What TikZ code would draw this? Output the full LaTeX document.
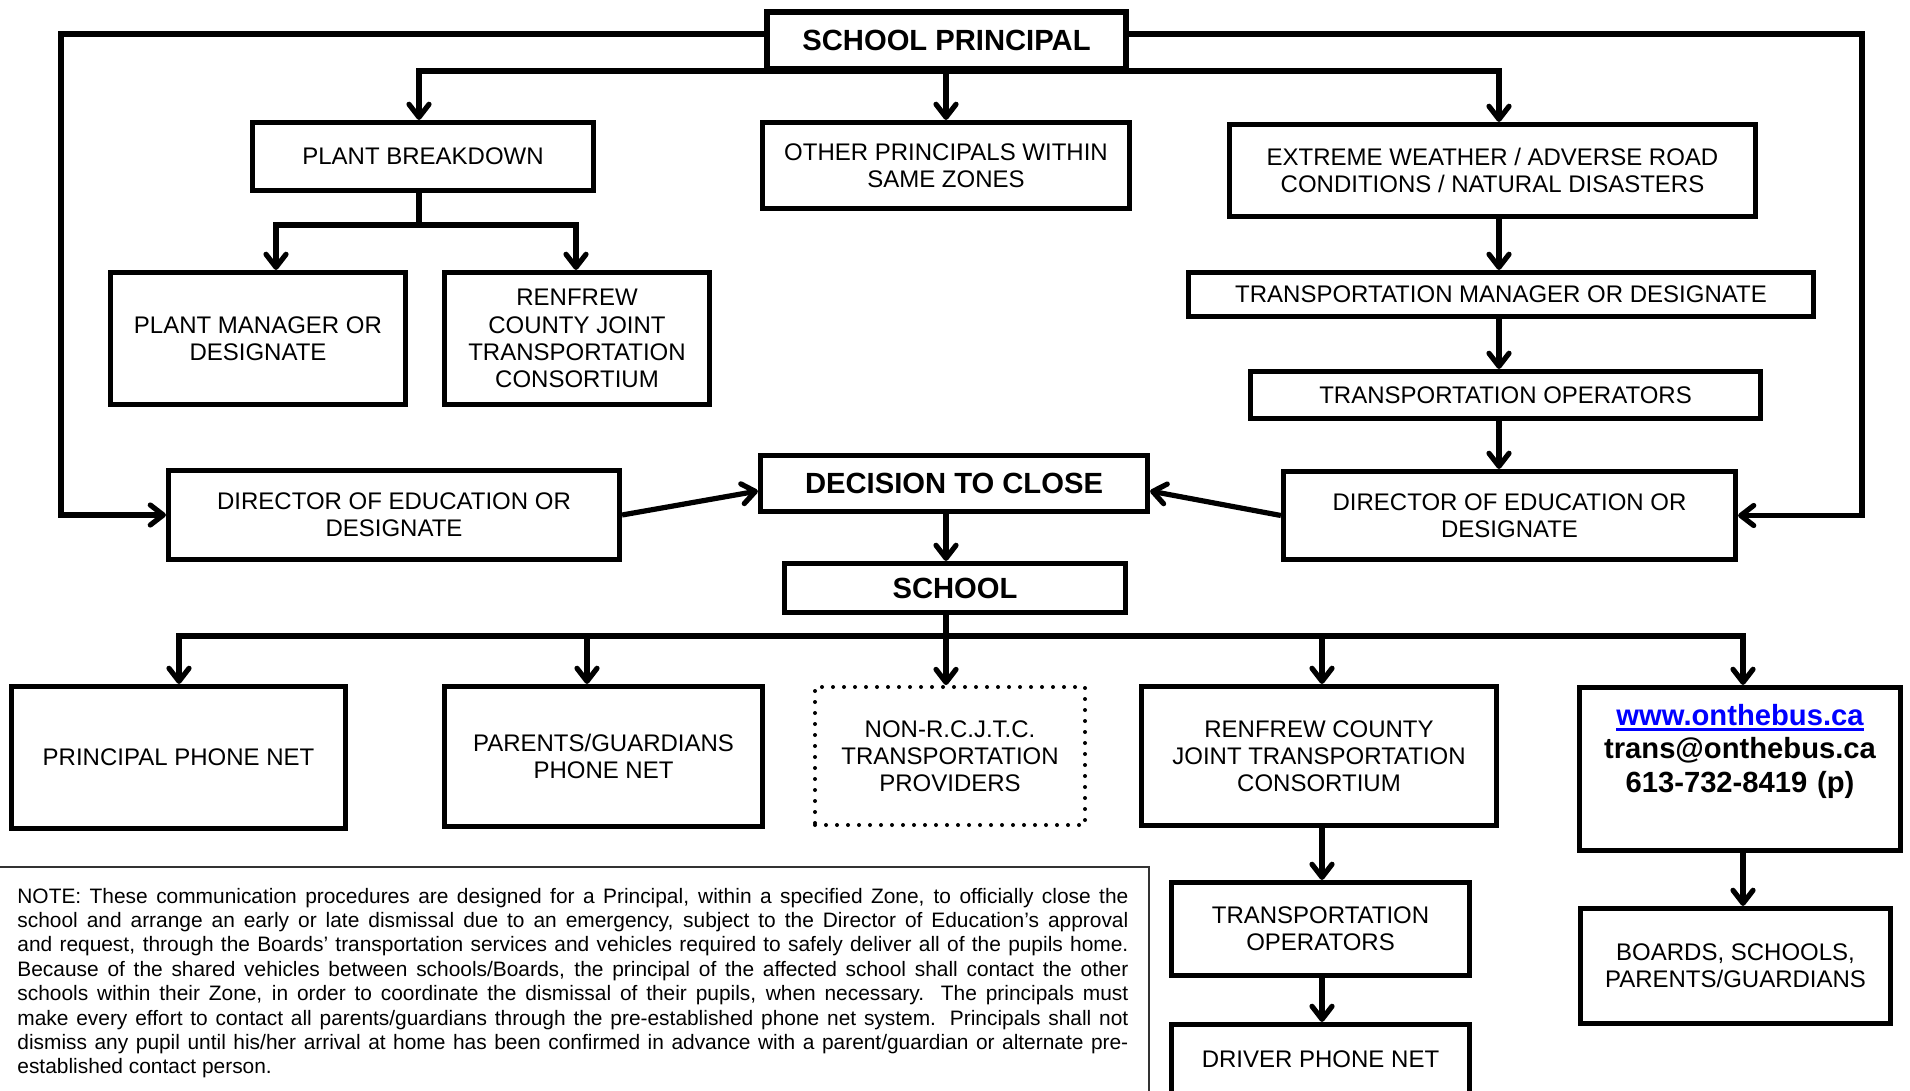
\documentclass[tikz,border=0pt]{standalone}
\usepackage{fontspec}
\setmainfont{Liberation Sans}
\usetikzlibrary{arrows.meta,fit,calc}
\newcommand\thickul[1]{\setbox0\hbox{#1}\rlap{\rule[-3pt]{\wd0}{1.5pt}}\box0}
\begin{document}
\begin{tikzpicture}[x=0.5pt,y=-0.5pt,
  box/.style={draw, line width=2.6pt, inner sep=0pt, align=center, font=\fontsize{12}{13.6}\selectfont},
  bigbox/.style={box, font=\fontsize{14.6}{16.8}\selectfont\bfseries},
  dotbox/.style={box, line width=2pt, dash pattern=on 0pt off 5.5pt, line cap=round},
  wh/.style 2 args={minimum width=#1pt, minimum height=#2pt},
  conn/.style={line width=2.6pt},
  arr/.style={conn, -{Straight Barb[round,length=6.5pt,width=10pt]}},
  noteframe/.style={draw=black!80, line width=0.6pt, inner sep=0pt}
]
\useasboundingbox (0,0) rectangle (1910,1091);
\fill[white] (0,0) rectangle (1910,1091);

% boxes
\node[bigbox, wh={179.5}{28.5}] (principal) at (946.5,40.5) {SCHOOL PRINCIPAL};
\node[box, wh={170.5}{34}] (plant) at (423,156.5) {PLANT BREAKDOWN};
\node[box, wh={183.5}{43}] (other) at (946,165.5) {OTHER PRINCIPALS WITHIN\\SAME ZONES};
\node[box, wh={263}{46}] (extreme) at (1492.5,170.5) {EXTREME WEATHER / ADVERSE ROAD\\CONDITIONS / NATURAL DISASTERS};
\node[box, wh={147.5}{66}] (pmanager) at (258,338.5) {PLANT MANAGER OR\\DESIGNATE};
\node[box, wh={132.5}{66}] (renfrewA) at (577,338.5) {RENFREW\\COUNTY JOINT\\TRANSPORTATION\\CONSORTIUM};
\node[box, wh={312.5}{22}] (tmanager) at (1501,294.5) {TRANSPORTATION MANAGER OR DESIGNATE};
\node[box, wh={255}{23.5}] (toperA) at (1505.5,395) {TRANSPORTATION OPERATORS};
\node[box, wh={225.5}{44.5}] (dirL) at (394,515) {DIRECTOR OF EDUCATION OR\\DESIGNATE};
\node[bigbox, wh={193.5}{28}] (decision) at (954,483.5) {DECISION TO CLOSE};
\node[box, wh={226}{44}] (dirR) at (1509.5,515.5) {DIRECTOR OF EDUCATION OR\\DESIGNATE};
\node[bigbox, wh={170.5}{24.5}] (school) at (955,588) {SCHOOL};
\node[box, wh={167}{71}] (ppn) at (178.5,757.5) {PRINCIPAL PHONE NET};
\node[box, wh={159}{70}] (parents) at (603.5,756.5) {PARENTS/GUARDIANS\\PHONE NET};
\node[dotbox, wh={135}{69}] (non) at (950,756) {NON-R.C.J.T.C.\\TRANSPORTATION\\PROVIDERS};
\node[box, wh={177.5}{69.5}] (renfrewB) at (1319,756) {RENFREW COUNTY\\JOINT TRANSPORTATION\\CONSORTIUM};
\node[box, wh={160.5}{81.5}] (bus) at (1740,769) {};
\node[anchor=base, inner sep=0pt, text width=170pt, align=center,
      font=\fontsize{14.6}{16.75}\selectfont\bfseries] (bustext) at (1740,725)
  {\textcolor{blue}{\thickul{www.onthebus.ca}}\\trans@onthebus.ca\\613-732-8419 (p)};
\node[box, wh={149}{46.5}] (toperB) at (1320.5,929) {TRANSPORTATION\\OPERATORS};
\node[box, wh={155}{57.5}] (boards) at (1735.5,966) {BOARDS, SCHOOLS,\\PARENTS/GUARDIANS};
\node[box, wh={149}{34.75}] (driver) at (1320.5,1059.25) {DRIVER PHONE NET};

% note
\node[noteframe, fit={(-5,867) (1149,1100)}] (noteframe) {};
\node[anchor=base west, inner sep=0pt, text width=555.5pt, align=justify,
      font=\fontsize{10.45}{12.2}\selectfont] (note) at (17,903)
  {NOTE: These communication procedures are designed for a Principal, within a specified Zone, to officially close the\linebreak
   school and arrange an early or late dismissal due to an emergency, subject to the Director of Education’s approval\linebreak
   and request, through the Boards’ transportation services and vehicles required to safely deliver all of the pupils home.\linebreak
   Because of the shared vehicles between schools/Boards, the principal of the affected school shall contact the other\linebreak
   schools within their Zone, in order to coordinate the dismissal of their pupils, when necessary.  The principals must\linebreak
   make every effort to contact all parents/guardians through the pre-established phone net system.  Principals shall not\linebreak
   dismiss any pupil until his/her arrival at home has been confirmed in advance with a parent/guardian or alternate pre-\linebreak
   established contact person.};

% coordinates
\coordinate (L1) at (61,34);
\coordinate (R1) at (1862,34);
\coordinate (b1) at (419,71);
\coordinate (b2) at (946,71);
\coordinate (b3) at (1499,71);
\coordinate (c0) at (419,225);
\coordinate (c1) at (276,225);
\coordinate (c2) at (576,225);
\coordinate (d0) at (946,636);
\coordinate (d1) at (179,636);
\coordinate (d2) at (587,636);
\coordinate (d4) at (1322,636);
\coordinate (d5) at (1743,636);

% connectors
\draw[arr] (principal.west |- L1) -- (L1) |- (dirL.west);
\draw[arr] (principal.east |- R1) -- (R1) |- (dirR.east);
\draw[arr] (b2) -- (b1) -- (b1 |- plant.north);
\draw[arr] (b2) -- (b3) -- (b3 |- extreme.north);
\draw[arr] (b2) -- (b2 |- other.north);
\draw[arr] (c0 |- plant.south) -- (c0) -- (c1) -- (c1 |- pmanager.north);
\draw[arr] (c0) -- (c2) -- (c2 |- renfrewA.north);
\draw[arr] (b3 |- extreme.south) -- (b3 |- tmanager.north);
\draw[arr] (b3 |- tmanager.south) -- (b3 |- toperA.north);
\draw[arr] (b3 |- toperA.south) -- (b3 |- dirR.north);
\draw[arr] (dirL.east) -- ($(decision.west)+(0,7.5)$);
\draw[arr] (dirR.west) -- ($(decision.east)+(0,7.5)$);
\draw[arr] (b2 |- decision.south) -- (b2 |- school.north);
\draw[arr] (d0 |- school.south) -- (d0 |- non.north);
\draw[arr] (d0) -- (d1) -- (d1 |- ppn.north);
\draw[arr] (d0) -- (d5) -- (d5 |- bus.north);
\draw[arr] (d2) -- (d2 |- parents.north);
\draw[arr] (d4) -- (d4 |- renfrewB.north);
\draw[arr] (d4 |- renfrewB.south) -- (d4 |- toperB.north);
\draw[arr] (d4 |- toperB.south) -- (d4 |- driver.north);
\draw[arr] (d5 |- bus.south) -- (d5 |- boards.north);
\end{tikzpicture}
\end{document}
